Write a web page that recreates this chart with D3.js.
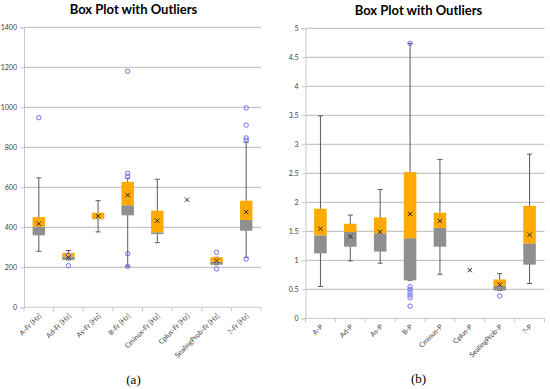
<!DOCTYPE html>
<html>
<head>
<meta charset="utf-8">
<script src="https://cdn.jsdelivr.net/npm/d3@7"></script>
<style>
  body { margin: 0; background: #fff; }
  svg { display: block; font-family: Lato, "Open Sans", sans-serif; }
</style>
</head>
<body>
<div id="holder"></div>
<script>
// (a) frequencies in Hz
var frCategories = ['A-Fr [Hz]', 'Ad-Fr [Hz]', 'As-Fr [Hz]', 'B-Fr [Hz]', 'Cminus-Fr [Hz]', 'Cplus-Fr [Hz]', 'SealingProb-Fr [Hz]', '?-Fr [Hz]'];
var frWhiskerLow  = [280, 237, 377, 205, 323, null, 213, 250];
var frQ1          = [360, 237, 440, 460, 366, null, 213, 383];
var frMedian      = [403, 252, 443, 510, 375, null, 227, 437];
var frQ3          = [451, 272, 473, 627, 483, null, 250, 533];
var frWhiskerHigh = [647, 284, 533, 645, 640, null, 250, 825];
var frMean        = [418, 249, 456, 561, 433, 538, 233, 477];
var frOutliers    = [[948], [261, 208], [], [1180, 670, 655, 268, 205], [], [], [275, 192], [997, 911, 847, 836, 241]];
var frTicks = [0, 200, 400, 600, 800, 1000, 1200, 1400];

// (b) P values
var pCategories = ['A-P', 'Ad-P', 'As-P', 'B-P', 'Cminus-P', 'Cplus-P', 'SealingProb-P', '?-P'];
var pWhiskerLow  = [0.55, 0.99, 0.95, 0.655, 0.76, null, 0.48, 0.60];
var pQ1          = [1.12, 1.235, 1.15, 0.655, 1.235, null, 0.48, 0.925];
var pMedian      = [1.43, 1.49, 1.465, 1.38, 1.56, null, 0.56, 1.29];
var pQ3          = [1.89, 1.63, 1.74, 2.52, 1.82, null, 0.67, 1.94];
var pWhiskerHigh = [3.49, 1.78, 2.22, 4.74, 2.74, null, 0.77, 2.83];
var pMean        = [1.545, 1.41, 1.49, 1.80, 1.68, 0.83, 0.58, 1.44];
var pOutliers    = [[], [], [], [4.74, 0.545, 0.50, 0.45, 0.40, 0.355, 0.21], [], [], [0.385], []];
var pTicks = [0, 0.5, 1, 1.5, 2, 2.5, 3, 3.5, 4, 4.5, 5];

var svg = d3.select('#holder').append('svg')
  .attr('width', 550)
  .attr('height', 389);

function drawBoxPlot(opts) {
  var g = svg.append('g');
  var n = opts.categories.length;

  var y = d3.scaleLinear()
    .domain([0, d3.max(opts.ticks)])
    .range([opts.bottom, opts.top]);

  var x = d3.scaleBand()
    .domain(opts.categories)
    .range([opts.left, opts.right])
    .padding(0);

  var bw = x.bandwidth();
  var boxW = bw * 0.42;
  var cx = function (i) { return x(opts.categories[i]) + bw / 2; };

  // gridlines
  g.selectAll('line.grid')
    .data(opts.ticks.filter(function (t) { return t > 0; }))
    .enter().append('line')
      .attr('x1', opts.left).attr('x2', opts.right)
      .attr('y1', function (d) { return y(d); })
      .attr('y2', function (d) { return y(d); })
      .attr('stroke', '#b8b8b8')
      .attr('stroke-width', 1);

  // y axis
  var yaxis = d3.axisLeft(y)
    .tickValues(opts.ticks)
    .tickSize(4)
    .tickPadding(3)
    .tickFormat(d3.format('~g'));
  var ya = g.append('g')
    .attr('transform', 'translate(' + opts.left + ',0)')
    .call(yaxis);
  ya.select('.domain').attr('stroke', '#c8c8c8');
  ya.selectAll('.tick line').attr('stroke', '#c8c8c8');
  ya.selectAll('.tick text')
    .attr('fill', '#404040')
    .style('font-size', '7px')
    .style('font-family', 'Lato, sans-serif');

  // x axis baseline and boundary ticks
  g.append('line')
    .attr('x1', opts.left).attr('x2', opts.right)
    .attr('y1', opts.bottom).attr('y2', opts.bottom)
    .attr('stroke', '#c8c8c8');
  var bounds = opts.categories.map(function (c) { return x(c); }).concat([opts.right]);
  g.selectAll('line.xtick')
    .data(bounds)
    .enter().append('line')
      .attr('x1', function (d) { return d; })
      .attr('x2', function (d) { return d; })
      .attr('y1', opts.bottom)
      .attr('y2', opts.bottom + 4)
      .attr('stroke', '#c8c8c8');

  g.selectAll('text.xlabel')
    .data(opts.categories)
    .enter().append('text')
      .attr('transform', function (d, i) {
        return 'translate(' + (cx(i) + 3) + ',' + (opts.bottom + 9) + ') rotate(-45)';
      })
      .attr('text-anchor', 'end')
      .attr('fill', '#404040')
      .style('font-size', '7px')
      .text(function (d) { return d; });

  var idx = d3.range(n).filter(function (i) { return opts.q1[i] != null; });

  // whiskers
  g.selectAll('line.whisker')
    .data(idx)
    .enter().append('line')
      .attr('x1', cx).attr('x2', cx)
      .attr('y1', function (i) { return y(opts.whiskerLow[i]); })
      .attr('y2', function (i) { return y(opts.whiskerHigh[i]); })
      .attr('stroke', '#5a5a5a')
      .attr('stroke-width', 1);
  ['whiskerLow', 'whiskerHigh'].forEach(function (k) {
    g.selectAll('line.cap-' + k)
      .data(idx)
      .enter().append('line')
        .attr('x1', function (i) { return cx(i) - 2.5; })
        .attr('x2', function (i) { return cx(i) + 2.5; })
        .attr('y1', function (i) { return y(opts[k][i]); })
        .attr('y2', function (i) { return y(opts[k][i]); })
        .attr('stroke', '#5a5a5a')
        .attr('stroke-width', 1);
  });

  // lower box (Q1 - median), grey
  g.selectAll('rect.lower')
    .data(idx)
    .enter().append('rect')
      .attr('x', function (i) { return cx(i) - boxW / 2; })
      .attr('width', boxW)
      .attr('y', function (i) { return y(opts.median[i]); })
      .attr('height', function (i) { return y(opts.q1[i]) - y(opts.median[i]); })
      .attr('fill', '#8f8f8f');

  // upper box (median - Q3), orange
  g.selectAll('rect.upper')
    .data(idx)
    .enter().append('rect')
      .attr('x', function (i) { return cx(i) - boxW / 2; })
      .attr('width', boxW)
      .attr('y', function (i) { return y(opts.q3[i]); })
      .attr('height', function (i) { return y(opts.median[i]) - y(opts.q3[i]); })
      .attr('fill', '#FFAA00');

  // outliers
  var pts = [];
  opts.outliers.forEach(function (list, i) {
    list.forEach(function (v) { pts.push({ i: i, v: v }); });
  });
  g.selectAll('circle.outlier')
    .data(pts)
    .enter().append('circle')
      .attr('cx', function (d) { return cx(d.i); })
      .attr('cy', function (d) { return y(d.v); })
      .attr('r', 2.2)
      .attr('fill', 'none')
      .attr('stroke', '#6f6ff0')
      .attr('stroke-width', 1);

  // means
  g.selectAll('path.mean')
    .data(d3.range(n).filter(function (i) { return opts.mean[i] != null; }))
    .enter().append('path')
      .attr('d', d3.symbol().type(d3.symbolX).size(14))
      .attr('transform', function (i) { return 'translate(' + cx(i) + ',' + y(opts.mean[i]) + ')'; })
      .attr('stroke', '#2a2a2a')
      .attr('stroke-width', 1)
      .attr('fill', 'none');

  // title and caption
  g.append('text')
    .attr('x', opts.titleX).attr('y', opts.titleY)
    .attr('text-anchor', 'middle')
    .attr('fill', '#000')
    .style('font-size', '13px')
    .style('font-weight', 'bold')
    .text('Box Plot with Outliers');

  g.append('text')
    .attr('x', opts.titleX).attr('y', opts.captionY)
    .attr('text-anchor', 'middle')
    .attr('fill', '#000')
    .style('font-size', '13px')
    .style('font-family', '"Liberation Serif", "DejaVu Serif", serif')
    .text(opts.caption);
}

drawBoxPlot({
  categories: frCategories, ticks: frTicks,
  whiskerLow: frWhiskerLow, q1: frQ1, median: frMedian, q3: frQ3,
  whiskerHigh: frWhiskerHigh, mean: frMean, outliers: frOutliers,
  left: 24, right: 261, top: 27.3, bottom: 307.3,
  titleX: 133.5, titleY: 14, captionY: 384, caption: '(a)'
});

drawBoxPlot({
  categories: pCategories, ticks: pTicks,
  whiskerLow: pWhiskerLow, q1: pQ1, median: pMedian, q3: pQ3,
  whiskerHigh: pWhiskerHigh, mean: pMean, outliers: pOutliers,
  left: 305.5, right: 544.5, top: 28.3, bottom: 318.3,
  titleX: 418.5, titleY: 15, captionY: 383, caption: '(b)'
});
</script>
</body>
</html>
